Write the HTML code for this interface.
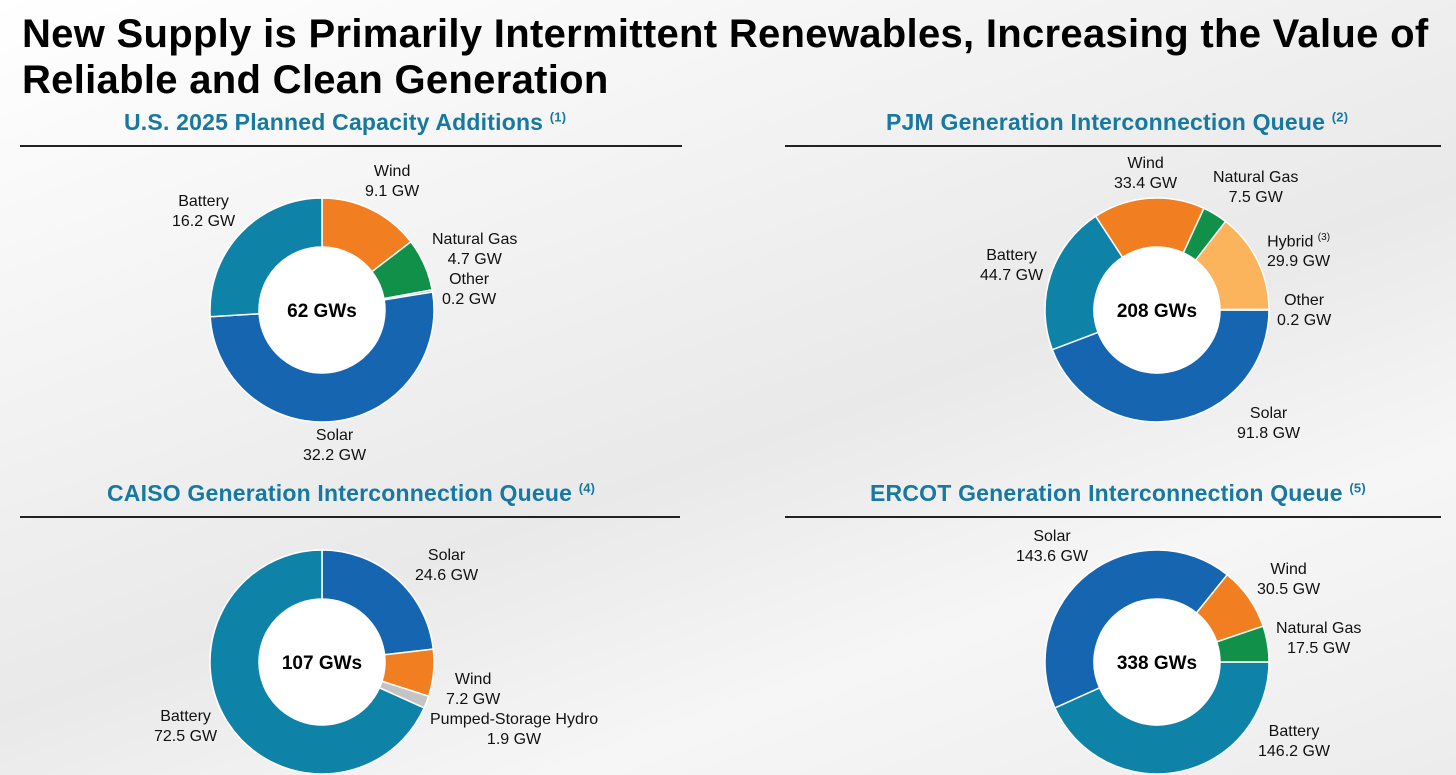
<!DOCTYPE html>
<html><head><meta charset="utf-8">
<style>
body{margin:0;width:1456px;height:775px;overflow:hidden;font-family:"Liberation Sans",Arial,sans-serif;background:linear-gradient(160deg,#ffffff 0%,#f1f1f1 35%,#e9e9e9 55%,#f6f6f6 75%,#ececec 100%);position:relative}
h1{position:absolute;left:22px;top:11px;margin:0;font-size:40px;line-height:46px;font-weight:bold;color:#000;letter-spacing:0.3px}
.t{position:absolute;font-size:23px;font-weight:bold;color:#1778a0;white-space:nowrap;letter-spacing:0.2px}
.t sup{font-size:13px}
.rule{position:absolute;height:2px;background:#222}
.l{position:absolute;font-size:16px;line-height:20px;color:#111;text-align:center;white-space:nowrap}
.l sup{font-size:10px}
svg{position:absolute;left:0;top:0}
</style></head><body>
<h1>New Supply is Primarily Intermittent Renewables, Increasing the Value of<br>Reliable and Clean Generation</h1>
<div class="t" style="left:124px;top:109px">U.S. 2025 Planned Capacity Additions <sup>(1)</sup></div>
<div class="t" style="left:886px;top:109px">PJM Generation Interconnection Queue <sup>(2)</sup></div>
<div class="t" style="left:107px;top:480px">CAISO Generation Interconnection Queue <sup>(4)</sup></div>
<div class="t" style="left:870px;top:480px">ERCOT Generation Interconnection Queue <sup>(5)</sup></div>
<div class="rule" style="left:20px;top:145px;width:662px"></div>
<div class="rule" style="left:785px;top:145px;width:656px"></div>
<div class="rule" style="left:20px;top:516px;width:660px"></div>
<div class="rule" style="left:785px;top:516px;width:656px"></div>
<svg id="s" width="1456" height="775"></svg>

<div class="l" style="left:172px;top:192px">Battery<br>16.2 GW</div>
<div class="l" style="left:365px;top:162px">Wind<br>9.1 GW</div>
<div class="l" style="left:432px;top:230px">Natural Gas<br>4.7 GW</div>
<div class="l" style="left:442px;top:270px">Other<br>0.2 GW</div>
<div class="l" style="left:303px;top:426px">Solar<br>32.2 GW</div>

<div class="l" style="left:1114px;top:154px">Wind<br>33.4 GW</div>
<div class="l" style="left:1213px;top:168px">Natural Gas<br>7.5 GW</div>
<div class="l" style="left:1267px;top:228px">Hybrid <sup>(3)</sup><br>29.9 GW</div>
<div class="l" style="left:980px;top:246px">Battery<br>44.7 GW</div>
<div class="l" style="left:1277px;top:291px">Other<br>0.2 GW</div>
<div class="l" style="left:1237px;top:404px">Solar<br>91.8 GW</div>

<div class="l" style="left:415px;top:546px">Solar<br>24.6 GW</div>
<div class="l" style="left:446px;top:670px">Wind<br>7.2 GW</div>
<div class="l" style="left:430px;top:710px">Pumped-Storage Hydro<br>1.9 GW</div>
<div class="l" style="left:154px;top:707px">Battery<br>72.5 GW</div>

<div class="l" style="left:1016px;top:527px">Solar<br>143.6 GW</div>
<div class="l" style="left:1257px;top:560px">Wind<br>30.5 GW</div>
<div class="l" style="left:1276px;top:619px">Natural Gas<br>17.5 GW</div>
<div class="l" style="left:1258px;top:722px">Battery<br>146.2 GW</div>

<script>
const usNames=["Wind","Natural Gas","Other","Solar","Battery"];
const usValues=[9.1,4.7,0.2,32.2,16.2];
const pjmNames=["Solar","Battery","Wind","Natural Gas","Hybrid","Other"];
const pjmValues=[91.8,44.7,33.4,7.5,29.9,0.2];
const caisoNames=["Solar","Wind","Pumped-Storage Hydro","Battery"];
const caisoValues=[24.6,7.2,1.9,72.5];
const ercotNames=["Battery","Solar","Wind","Natural Gas"];
const ercotValues=[146.2,143.6,30.5,17.5];
const colors={"Wind":"#f17f22","Natural Gas":"#11904a","Other":"#b0b0b0","Solar":"#1565b0","Battery":"#0f82a8","Hybrid":"#fbb45c","Pumped-Storage Hydro":"#c4c4c4"};
const svg=document.getElementById('s');
const NS="http://www.w3.org/2000/svg";
function pt(cx,cy,r,a){const t=(a-90)*Math.PI/180;return [cx+r*Math.cos(t),cy+r*Math.sin(t)];}
function donut(id,cx,cy,names,vals,start,total){
  const sum=vals.reduce((a,b)=>a+b,0);let a=start;const R=112,r=63;
  names.forEach((n,i)=>{
    const sw=vals[i]/sum*360;const a2=a+sw;const lg=sw>180?1:0;
    const [x1,y1]=pt(cx,cy,R,a),[x2,y2]=pt(cx,cy,R,a2),[x3,y3]=pt(cx,cy,r,a2),[x4,y4]=pt(cx,cy,r,a);
    const p=document.createElementNS(NS,'path');
    p.setAttribute('d',`M${x1},${y1}A${R},${R} 0 ${lg} 1 ${x2},${y2}L${x3},${y3}A${r},${r} 0 ${lg} 0 ${x4},${y4}Z`);
    p.setAttribute('fill',colors[n]);p.setAttribute('stroke','#fff');p.setAttribute('stroke-width','1.5');
    
    
    svg.appendChild(p);a=a2;
  });
  const c=document.createElementNS(NS,'circle');c.setAttribute('cx',cx);c.setAttribute('cy',cy);c.setAttribute('r',r);c.setAttribute('fill','#fff');
  
  
  svg.appendChild(c);
  const t=document.createElementNS(NS,'text');t.setAttribute('x',cx);t.setAttribute('y',cy+7);t.setAttribute('text-anchor','middle');
  t.setAttribute('font-size','19');t.setAttribute('font-weight','bold');t.setAttribute('font-family','Liberation Sans, Arial, sans-serif');t.textContent=total;
  
  
  svg.appendChild(t);
}
donut('us',322,310,usNames,usValues,0,'62 GWs');
donut('pjm',1157,310,pjmNames,pjmValues,90,'208 GWs');
donut('caiso',322,662,caisoNames,caisoValues,0,'107 GWs');
donut('ercot',1157,662,ercotNames,ercotValues,90,'338 GWs');
</script>
</body></html>
